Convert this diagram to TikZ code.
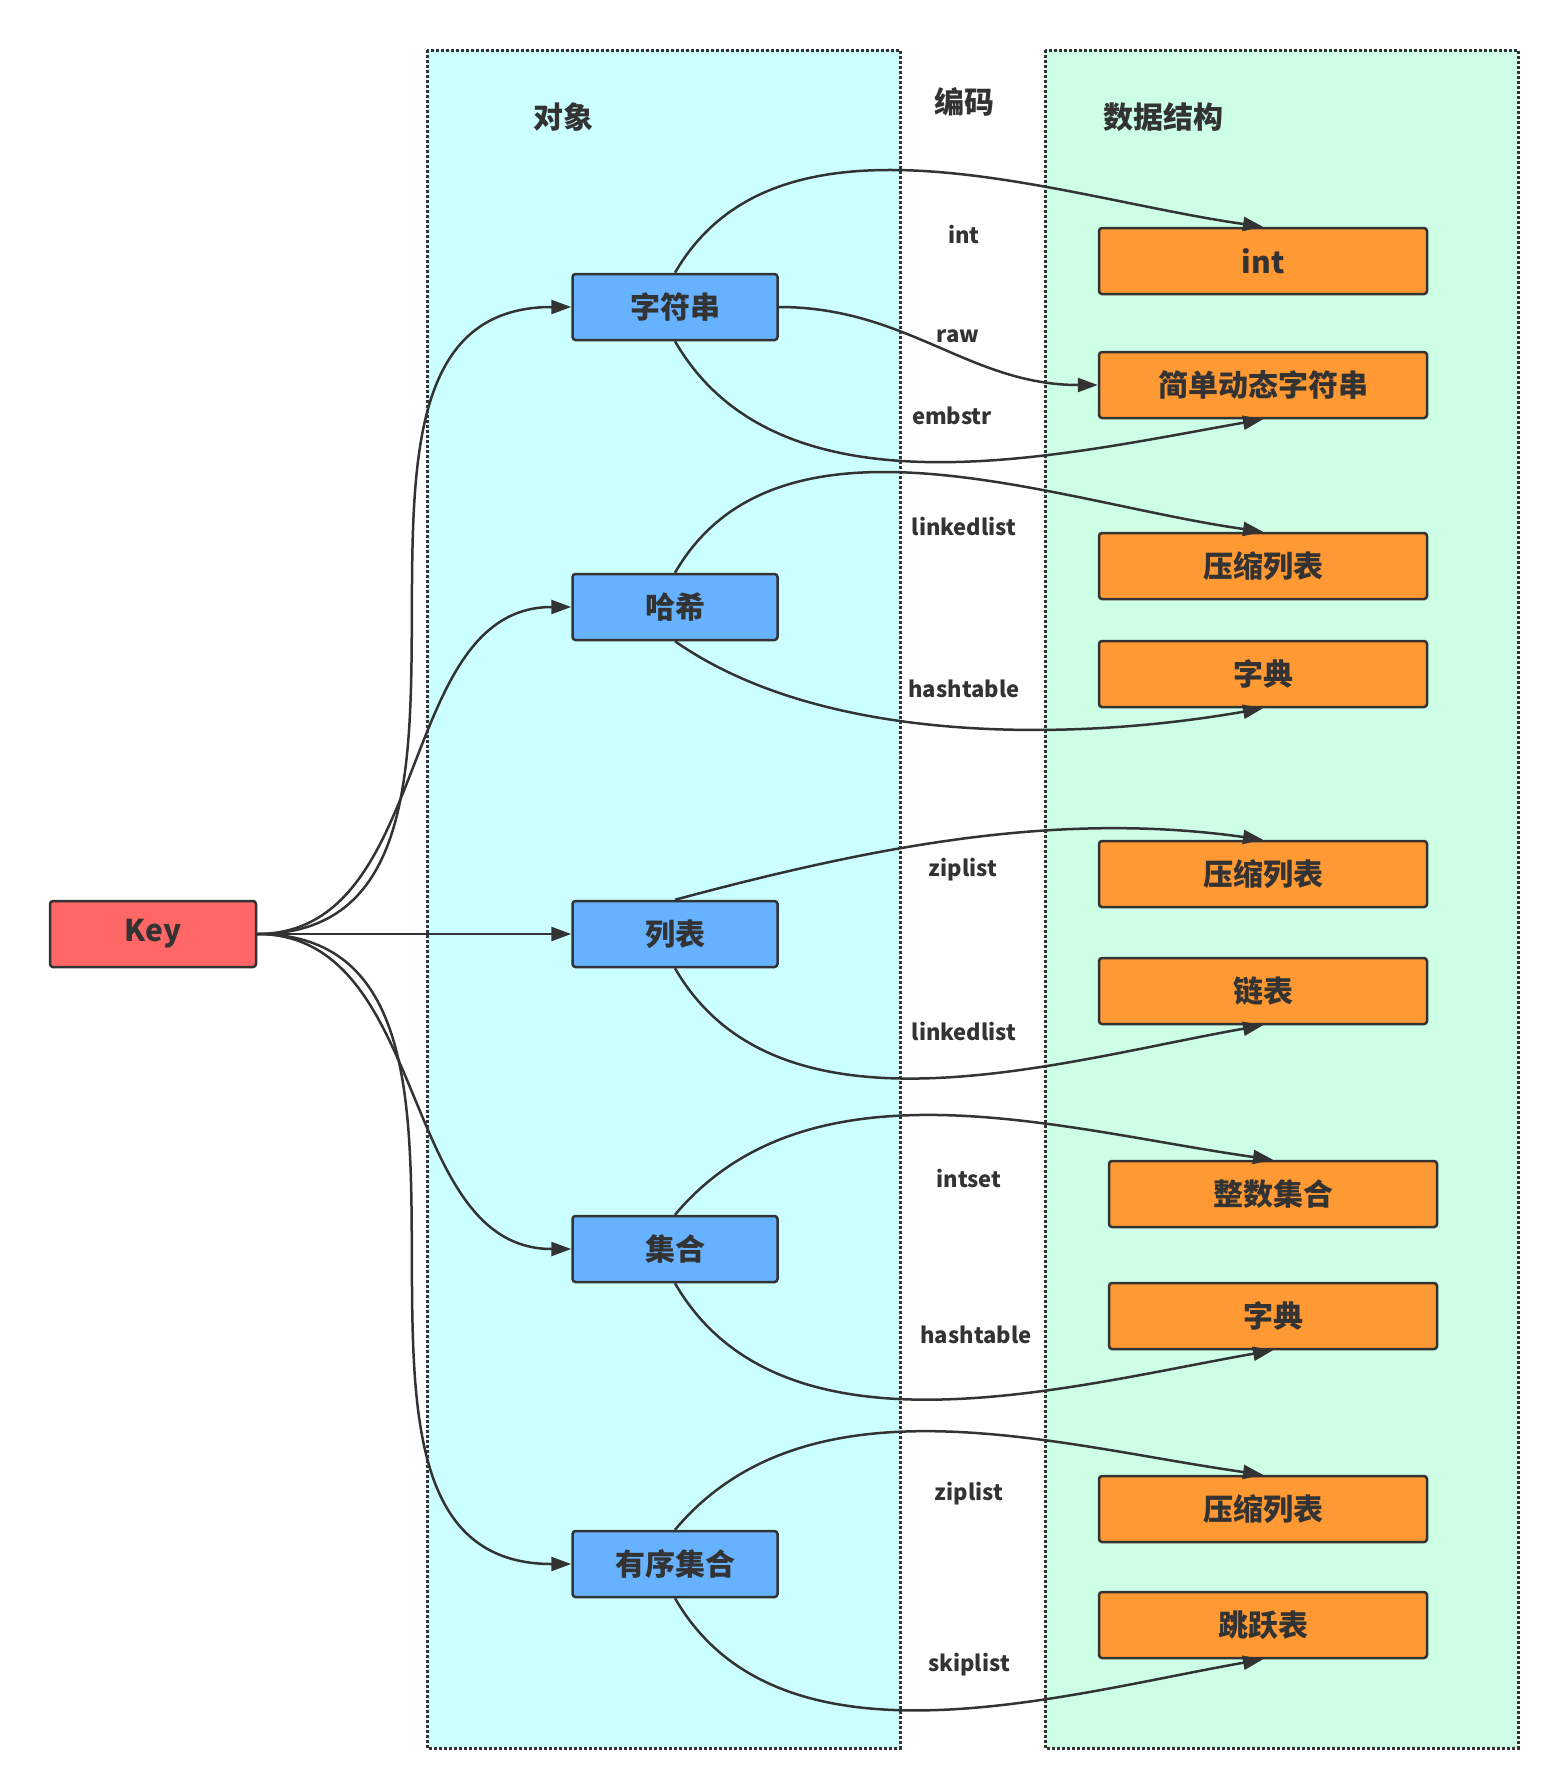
\documentclass[tikz,border=0pt]{standalone}
\usepackage{fontspec}
\setmainfont{Noto Sans CJK SC}
\usepackage{xcolor}
\usetikzlibrary{arrows.meta}
\definecolor{ink}{HTML}{333333}
\definecolor{objbg}{HTML}{CCFFFF}
\definecolor{dsbg}{HTML}{CCFFE6}
\definecolor{keyred}{HTML}{FF6666}
\definecolor{objblue}{HTML}{66B2FF}
\definecolor{dsorange}{HTML}{FF9933}
\def\big#1{\fontsize{30}{34}\selectfont\bfseries #1}
\def\enc#1{\fontsize{22}{26}\selectfont\bfseries #1}
\begin{document}
\begin{tikzpicture}[x=1pt,y=-1pt,line width=2.5pt,draw=ink,text=ink,
    >={Triangle[length=20pt,width=14pt]}]
    \tikzstyle{box}=[draw=ink,rounded corners=3pt,minimum height=66pt,inner sep=0pt]
    \tikzstyle{obj}=[box,fill=objblue,minimum width=205pt]
    \tikzstyle{ds}=[box,fill=dsorange,minimum width=328pt]
    \tikzstyle{lbl}=[inner sep=1pt]
    \useasboundingbox (0,0) rectangle (1558,1780);
    % panels
    \draw[dotted,line width=3pt,fill=objbg] (427,50) rectangle (900,1748);
    \draw[dotted,line width=3pt,fill=dsbg] (1045,50) rectangle (1518,1748);
    \node (tobj) at (563,117) {\big{对象}};
    \node (tenc) at (964,102) {\big{编码}};
    \node (tds) at (1163,117) {\big{数据结构}};
    % key and objects
    \node[box,fill=keyred,minimum width=206pt] (key) at (153,934) {\big{Key}};
    \node[obj] (str) at (675,307) {\big{字符串}};
    \node[obj] (hash) at (675,607) {\big{哈希}};
    \node[obj] (list) at (675,934) {\big{列表}};
    \node[obj] (set) at (675,1249) {\big{集合}};
    \node[obj] (zset) at (675,1564) {\big{有序集合}};
    % data structures
    \node[ds] (dint) at (1263,261) {\big{int}};
    \node[ds] (dsds) at (1263,385) {\big{简单动态字符串}};
    \node[ds] (dzip1) at (1263,566) {\big{压缩列表}};
    \node[ds] (ddict1) at (1263,674) {\big{字典}};
    \node[ds] (dzip2) at (1263,874) {\big{压缩列表}};
    \node[ds] (dlink) at (1263,991) {\big{链表}};
    \node[ds] (dints) at (1273,1194) {\big{整数集合}};
    \node[ds] (ddict2) at (1273,1316) {\big{字典}};
    \node[ds] (dzip3) at (1263,1509) {\big{压缩列表}};
    \node[ds] (dskip) at (1263,1625) {\big{跳跃表}};
    % key to objects
    \draw[->] (key.east) to[out=0,in=180,looseness=1.1] (str.west);
    \draw[->] (key.east) to[out=0,in=180] (hash.west);
    \draw[->] (key.east) -- (list.west);
    \draw[->] (key.east) to[out=0,in=180] (set.west);
    \draw[->] (key.east) to[out=0,in=180,looseness=1.1] (zset.west);
    % encodings
    \draw[->] (str.north) to[out=60,in=172,looseness=0.9] (dint.north);
    \draw[->] (str.east) to[out=0,in=180] (dsds.west);
    \draw[->] (str.south) to[out=-60,in=-170,looseness=0.9] (dsds.south);
    \draw[->] (hash.north) to[out=60,in=172,looseness=0.9] (dzip1.north);
    \draw[->] (hash.south) to[out=-35,in=-170,looseness=0.8] (ddict1.south);
    \draw[->] (list.north) to[out=15,in=172,looseness=0.9] (dzip2.north);
    \draw[->] (list.south) to[out=-60,in=-170,looseness=0.9] (dlink.south);
    \draw[->] (set.north) to[out=50,in=172,looseness=0.9] (dints.north);
    \draw[->] (set.south) to[out=-60,in=-170,looseness=0.9] (ddict2.south);
    \draw[->] (zset.north) to[out=50,in=172,looseness=0.9] (dzip3.north);
    \draw[->] (zset.south) to[out=-60,in=-170,looseness=0.9] (dskip.south);
    % encoding labels
    \node[lbl] (eint) at (964,235) {\enc{int}};
    \node[lbl] (eraw) at (958,336) {\enc{raw}};
    \node[lbl] (eemb) at (952,416) {\enc{embstr}};
    \node[lbl] (elink1) at (964,527) {\enc{linkedlist}};
    \node[lbl] (ehash1) at (964,689) {\enc{hashtable}};
    \node[lbl] (ezip1) at (963,870) {\enc{ziplist}};
    \node[lbl] (elink2) at (964,1031) {\enc{linkedlist}};
    \node[lbl] (eints) at (969,1178) {\enc{intset}};
    \node[lbl] (ehash2) at (976,1335) {\enc{hashtable}};
    \node[lbl] (ezip2) at (969,1494) {\enc{ziplist}};
    \node[lbl] (eskip) at (969,1665) {\enc{skiplist}};
\end{tikzpicture}
\end{document}
